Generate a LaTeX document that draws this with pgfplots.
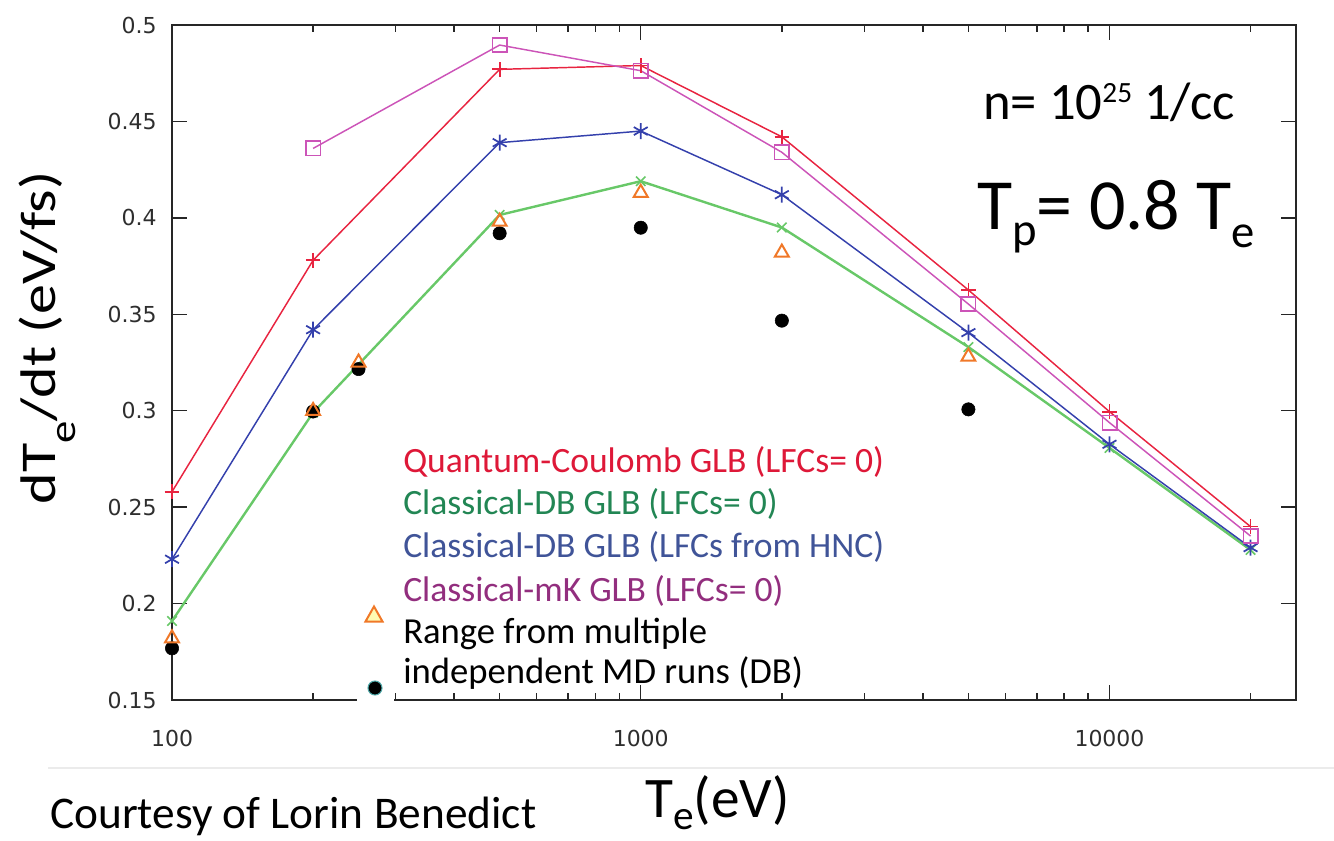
\documentclass[border=0pt]{standalone}
\usepackage{pgfplots}
\pgfplotsset{compat=1.18}
\usepackage{fontspec}
\setmainfont{Carlito}
\newfontfamily\tickfont{DejaVu Sans}

\definecolor{cQC}{RGB}{232,36,64}
\definecolor{cDB}{RGB}{104,200,104}
\definecolor{cHNC}{RGB}{52,64,172}
\definecolor{cMK}{RGB}{204,84,184}
\definecolor{cMD}{RGB}{240,120,40}
\definecolor{tQC}{RGB}{222,24,56}
\definecolor{tDB}{RGB}{34,134,84}
\definecolor{tHNC}{RGB}{64,84,152}
\definecolor{tMK}{RGB}{146,46,126}

% lowered / raised piece of text at a given size
\newcommand\shifted[3]{\raisebox{#1}{\fontsize{#2}{#2}\selectfont #3}}

\pgfplotstableread{
T      qc     db     hnc    mk
100    0.258  0.191  0.223  nan
200    0.378  0.299  0.342  0.436
500    0.477  0.4015 0.439  0.4896
1000   0.479  0.419  0.445  0.4763
2000   0.442  0.395  0.412  0.434
5000   0.3626 0.333  0.3405 0.3553
10000  0.2995 0.2807 0.2826 0.2938
20000  0.2399 0.2278 0.229  0.235
}\glb

\pgfplotstableread{
T      tri    dot
100    0.182  0.1768
200    0.2999 0.2996
250    0.325  0.3216
500    0.398  0.392
1000   0.413  0.3949
2000   0.382  0.3467
5000   0.328  0.3007
}\md

\begin{document}
\begin{tikzpicture}
\begin{axis}[
  at={(129pt,-525pt)}, anchor=south west,
  scale only axis, width=843pt, height=506.25pt,
  xmode=log, xmin=100, xmax=25000, ymin=0.15, ymax=0.5,
  xtick={100,1000,10000}, xticklabels={100,1000,10000},
  minor xtick={200,300,400,500,600,700,800,900,2000,3000,4000,5000,6000,7000,8000,9000,20000},
  ytick={0.15,0.2,0.25,0.3,0.35,0.4,0.45,0.5},
  yticklabels={0.15,0.2,0.25,0.3,0.35,0.4,0.45,0.5},
  tick align=inside,
  major tick length=11pt, minor tick length=5.5pt,
  axis line style={line width=1.3pt, black!85},
  every tick/.style={line width=1.1pt, black!85},
  /pgf/number format/assume math mode=true,
  ticklabel style={font=\tickfont\fontsize{16.5}{17}\selectfont, text=black!82},
  xticklabel style={yshift=-19pt},
  yticklabel style={xshift=-8pt},
  clip=false,
  unbounded coords=jump,
]
\addplot[cQC, line width=1.1pt, mark=+, mark size=5.5pt, mark options={line width=1.3pt}] table[x=T, y=qc] {\glb};
\addplot[cDB, line width=1.8pt, mark=x, mark size=5pt, mark options={line width=1.2pt}] table[x=T, y=db] {\glb};
\addplot[cHNC, line width=1.1pt, mark=asterisk, mark size=6pt, mark options={line width=1.3pt}] table[x=T, y=hnc] {\glb};
\addplot[cMK, line width=1.1pt, mark=square, mark size=5.4pt, mark options={line width=1.2pt}] table[x=T, y=mk] {\glb};
\addplot[only marks, mark=*, mark size=5pt, mark options={fill=black, draw=black}] table[x=T, y=dot] {\md};
\addplot[only marks, mark=triangle, mark size=6pt, mark options={draw=cMD, line width=1.5pt}] table[x=T, y=tri] {\md};
\end{axis}

\begin{scope}[x=0.75pt, y=-0.75pt]
  % light frame edge under the plot
  \draw[black!8, line width=1.5pt] (48,768) -- (1334,768);
  % legend, set as coloured text
  \fill[white] (357,668) rectangle (394,706);
  \path[draw=cMD, line width=1.5pt, fill=yellow!30] (374,606.5) -- (382.5,621.5) -- (365.5,621.5) -- cycle;
  \fill[black, draw=teal!70, line width=0.8pt] (375,688) circle (7);
  \begin{scope}[every node/.style={anchor=base west, inner sep=0pt}]
    \node[text=tQC]  at (403,472) {\fontsize{26.7}{28}\selectfont Quantum-Coulomb GLB (LFCs= 0)};
    \node[text=tDB]  at (403,514) {\fontsize{26.7}{28}\selectfont Classical-DB GLB (LFCs= 0)};
    \node[text=tHNC] at (403,557) {\fontsize{26.7}{28}\selectfont Classical-DB GLB (LFCs from HNC)};
    \node[text=tMK]  at (403,601) {\fontsize{26.7}{28}\selectfont Classical-mK GLB (LFCs= 0)};
    \node[text=black] at (403,643) {\fontsize{27.5}{30}\selectfont Range from multiple};
    \node[text=black] at (403,683) {\fontsize{27.5}{30}\selectfont independent MD runs (DB)};
    % conditions
    \node at (983,120) {\fontsize{39.5}{40}\selectfont n= 10\shifted{13pt}{22pt}{25} 1/cc};
    \node at (977,230) {\fontsize{54}{56}\selectfont T\shifted{-12pt}{35pt}{p}= 0.8 T\shifted{-13pt}{35pt}{e}};
    % axis titles and credit
    \node at (645,817) {\fontsize{43}{45}\selectfont T\shifted{-9pt}{31pt}{e}(eV)};
    \node at (50,828) {\fontsize{34}{36}\selectfont Courtesy of Lorin Benedict};
  \end{scope}
  \node[rotate=90, anchor=base, inner sep=0pt] at (55,338)
    {\scalebox{1.2}[1]{\fontsize{37.5}{40}\selectfont dT\shifted{-15pt}{28pt}{e}/dt (eV/fs)}};
\end{scope}
\pgfresetboundingbox
\path[use as bounding box] (0pt,0pt) rectangle (1000.5pt,-630.75pt);
\end{tikzpicture}
\end{document}
